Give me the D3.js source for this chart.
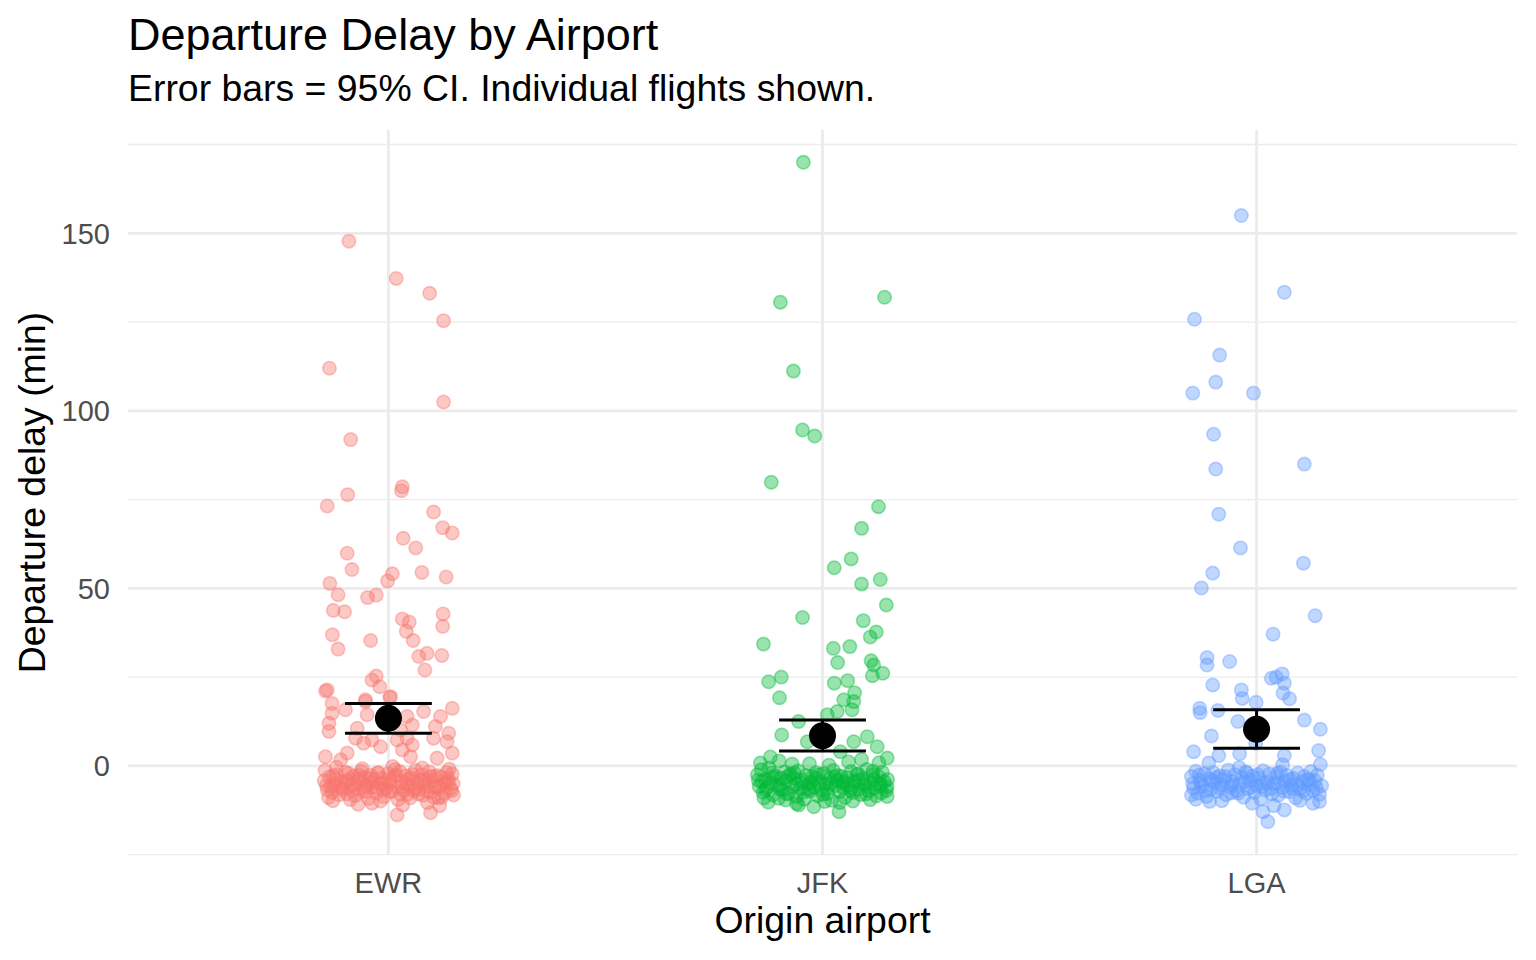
<!DOCTYPE html>
<html>
<head>
<meta charset="utf-8">
<script src="https://cdn.jsdelivr.net/npm/d3@7"></script>
<style>
body { margin: 0; background: #ffffff; }
text { font-family: "Liberation Sans", Arial, sans-serif; }
</style>
</head>
<body>
<script>
// categories and summary stats
var airports = ["EWR", "JFK", "LGA"]
var airportColors = ["#F8766D", "#00BA38", "#619CFF"]
var meanDelay = [13.4, 8.5, 10.3]
var ciLow = [9.2, 4.2, 5.0]
var ciHigh = [17.6, 12.9, 15.8]
var yTicks = [0, 50, 100, 150]
var yMinorTicks = [-25, 25, 75, 125, 175]

// individual flights: [jitter offset (category units), delay in minutes]
var ewrFlights = [
[-0.091,147.8],[0.018,137.3],[0.095,133.1],[0.127,125.4],[-0.136,112.0],[0.127,102.5],[-0.087,91.9],
[0.032,78.6],[0.030,77.5],[-0.094,76.4],[-0.141,73.2],[0.104,71.5],[0.125,67.1],[0.147,65.6],
[0.034,64.1],[0.063,61.4],[-0.095,59.9],[-0.084,55.3],[0.009,54.1],[-0.002,52.1],[0.077,54.5],
[0.133,53.2],[-0.135,51.4],[-0.116,48.2],[-0.028,48.1],[-0.048,47.4],[-0.127,43.8],[-0.101,43.4],
[0.126,42.8],[0.032,41.4],[0.048,40.5],[0.125,39.3],[0.041,37.9],[-0.129,36.9],[-0.041,35.3],
[0.057,35.3],[-0.116,32.9],[0.089,31.7],[0.070,30.8],[0.123,31.1],[0.084,27.0],[-0.028,25.3],
[-0.038,24.2],[-0.020,22.3],[-0.141,21.4],[-0.145,21.1],[-0.053,18.6],[0.003,19.3],[-0.130,17.6],
[-0.130,14.8],[-0.137,12.0],[-0.137,9.7],[-0.099,15.8],[-0.053,18.1],[-0.049,14.4],[-0.072,10.6],
[-0.076,7.8],[-0.057,6.4],[-0.038,7.3],[-0.018,5.4],[0.005,19.5],[0.043,13.9],[0.055,11.5],
[0.028,10.1],[0.020,7.3],[0.043,7.8],[0.055,5.9],[0.032,4.5],[0.081,15.3],[0.108,11.1],[0.120,13.9],
[0.147,16.2],[0.139,9.2],[0.135,6.8],[0.104,7.8],[0.147,3.6],[-0.145,2.6],[-0.095,3.6],[-0.110,1.7],
[0.112,2.2],[0.051,2.6],[0.020,-13.8],[0.097,-13.2],[-0.038,-10.5],
[-0.148,-4.2],[-0.141,-6.8],[-0.136,-3.1],[-0.130,-7.5],[-0.125,-5.0],[-0.119,-2.4],[-0.114,-8.1],
[-0.110,-4.6],[-0.104,-6.2],[-0.099,-1.8],[-0.095,-7.9],[-0.090,-3.7],[-0.086,-5.6],[-0.081,-2.9],
[-0.077,-8.4],[-0.072,-4.4],[-0.068,-6.5],[-0.063,-1.5],[-0.059,-7.1],[-0.054,-3.3],[-0.050,-5.3],
[-0.046,-9.2],[-0.041,-2.6],[-0.037,-6.0],[-0.032,-4.0],[-0.028,-7.6],[-0.023,-1.9],[-0.019,-5.1],
[-0.014,-3.5],[-0.010,-8.7],[-0.005,-6.3],[-0.001,-2.2],[0.004,-4.8],[0.008,-7.3],[0.013,-3.0],
[0.017,-5.8],[0.022,-9.5],[0.026,-1.6],[0.031,-4.3],[0.035,-6.9],[0.040,-2.8],[0.044,-8.0],
[0.049,-5.5],[0.053,-3.4],[0.058,-7.0],[0.062,-1.2],[0.067,-4.9],[0.071,-6.6],[0.076,-2.5],
[0.080,-8.3],[0.085,-3.8],[0.089,-5.7],[0.094,-1.7],[0.098,-7.4],[0.103,-4.1],[0.107,-6.1],
[0.112,-2.7],[0.116,-9.0],[0.121,-3.2],[0.125,-5.4],[0.130,-7.7],[0.134,-1.9],[0.139,-4.5],
[0.143,-6.4],[0.147,-2.3],[0.150,-8.2],
[-0.146,-1.3],[-0.133,-5.9],[-0.121,-3.9],[-0.107,-6.7],[-0.092,-2.1],[-0.079,-5.2],[-0.066,-3.6],
[-0.052,-7.3],[-0.039,-4.7],[-0.025,-2.0],[-0.012,-6.8],[0.002,-3.9],[0.015,-1.0],[0.028,-8.0],
[0.042,-5.0],[0.055,-2.4],[0.069,-7.9],[0.082,-4.6],[0.096,-3.1],[0.110,-5.9],[0.123,-8.8],
[0.137,-3.6],[0.149,-5.0],[-0.128,-9.8],[-0.070,-10.8],[0.033,-11.0],[0.090,-10.4],[0.118,-11.2],
[-0.143,-5.5],[-0.127,-2.8],[-0.112,-6.0],[-0.097,-4.3],[-0.083,-7.0],[-0.068,-2.6],[-0.054,-5.8],
[-0.040,-3.5],[-0.026,-6.2],[-0.011,-4.9],[0.003,-7.1],[0.018,-2.5],[0.032,-5.9],[0.046,-3.8],
[0.061,-6.4],[0.075,-4.0],[0.089,-7.2],[0.104,-2.9],[0.118,-6.0],[0.132,-4.8],[0.146,-7.0],
[-0.120,-0.4],[-0.060,-0.8],[0.010,-0.2],[0.078,-0.6],[0.140,-0.9],[-0.138,-8.9],[-0.088,-9.5],
[-0.018,-9.9],[0.050,-9.0],[0.105,-8.9]
]

var jfkFlights = [
[-0.044,170.0],[-0.097,130.6],[0.143,132.0],[-0.067,111.2],[-0.046,94.6],[-0.018,92.9],[-0.118,79.9],
[0.129,73.0],[0.090,66.9],[0.066,58.3],[0.027,55.8],[0.133,52.5],[0.090,51.2],[0.147,45.3],
[-0.046,41.8],[0.094,40.9],[0.124,37.7],[0.110,36.3],[-0.136,34.3],[0.025,33.1],[0.063,33.6],
[0.035,29.1],[0.112,29.6],[0.118,28.4],[0.115,25.4],[0.139,26.1],[-0.124,23.7],[-0.095,25.0],
[0.027,23.3],[0.058,24.0],[-0.099,19.2],[0.074,20.6],[0.049,18.6],[0.072,18.1],[0.034,15.3],
[0.068,15.8],[0.011,14.4],[-0.055,12.5],[-0.094,8.7],[-0.035,6.8],[0.072,6.8],[0.103,8.2],
[0.126,5.4],[0.041,4.0],[0.149,2.2],[-0.143,0.8],[0.038,-12.9],[-0.055,-11.0],[0.149,-8.6],
[-0.150,-2.5],[-0.146,-5.8],[-0.141,-1.1],[-0.137,-7.4],[-0.132,-3.9],[-0.128,-6.1],[-0.123,-0.6],
[-0.119,-4.7],[-0.114,-8.2],[-0.110,-2.8],[-0.105,-5.5],[-0.101,-9.1],[-0.096,-3.4],[-0.092,-6.8],
[-0.087,-1.7],[-0.083,-4.2],[-0.078,-7.7],[-0.074,-2.3],[-0.069,-5.9],[-0.065,-3.5],[-0.060,-8.6],
[-0.056,-1.4],[-0.051,-6.4],[-0.047,-4.0],[-0.042,-9.4],[-0.038,-2.7],[-0.033,-5.2],[-0.029,-7.1],
[-0.024,-3.1],[-0.020,-6.0],[-0.015,-1.9],[-0.011,-8.4],[-0.006,-4.5],[-0.002,-6.7],[0.003,-2.1],
[0.007,-5.0],[0.012,-7.8],[0.016,-3.7],[0.021,-9.7],[0.025,-1.3],[0.030,-5.6],[0.034,-4.1],
[0.039,-7.2],[0.043,-2.9],[0.048,-6.2],[0.052,-8.9],[0.057,-3.3],[0.061,-5.4],[0.066,-1.6],
[0.070,-7.5],[0.075,-4.3],[0.079,-2.4],[0.084,-6.6],[0.088,-8.1],[0.093,-3.6],[0.097,-5.1],
[0.102,-1.0],[0.106,-7.0],[0.111,-4.8],[0.115,-2.6],[0.120,-6.3],[0.124,-8.5],[0.129,-3.0],
[0.133,-5.7],[0.138,-1.8],[0.142,-4.4],[0.147,-6.9],[0.150,-3.8],
[-0.140,-4.4],[-0.117,-2.0],[-0.099,-6.5],[-0.080,-3.0],[-0.062,-5.1],[-0.044,-7.4],[-0.026,-4.6],
[-0.008,-2.5],[0.010,-6.1],[0.028,-3.2],[0.046,-4.9],[0.064,-7.0],[0.082,-2.2],[0.100,-5.6],
[0.118,-3.9],[0.136,-7.6],[-0.125,-10.2],[-0.060,-10.6],[0.005,-10.0],[0.070,-9.9],
[-0.120,2.5],[-0.100,1.4],[0.090,1.8],[0.130,0.9],[-0.030,0.6],
[-0.148,-4.0],[-0.131,-6.8],[-0.115,-3.2],[-0.098,-5.4],[-0.082,-7.9],[-0.065,-2.0],[-0.049,-4.8],
[-0.032,-6.6],[-0.016,-3.4],[0.001,-8.0],[0.017,-5.2],[0.034,-2.7],[0.050,-4.5],[0.067,-6.0],
[0.083,-4.1],[0.100,-7.9],[0.116,-1.5],[0.133,-4.9],[0.149,-5.9],[-0.135,-9.0],[-0.085,-9.6],
[-0.020,-11.5],[0.040,-10.3],[0.110,-9.5],[-0.070,0.5],[0.015,0.2],[0.060,1.1]
]

var lgaFlights = [
[-0.035,155.0],[0.064,133.4],[-0.143,125.8],[-0.085,115.7],[-0.094,108.1],[-0.147,105.0],[-0.007,105.0],
[-0.099,93.4],[-0.094,83.6],[0.110,85.0],[-0.087,70.9],[-0.037,61.4],[-0.101,54.3],[0.108,57.1],
[-0.127,50.1],[0.135,42.3],[0.038,37.1],[-0.114,30.5],[-0.114,28.4],[-0.062,29.4],[-0.101,22.8],
[-0.035,21.4],[-0.033,19.0],[0.034,24.7],[0.045,25.0],[0.059,25.9],[0.064,23.3],[0.061,20.5],
[0.076,18.9],[-0.001,17.9],[-0.131,16.2],[-0.130,15.0],[-0.089,15.6],[-0.043,12.5],[0.110,12.9],
[0.147,10.3],[-0.104,8.4],[-0.002,6.4],[-0.145,4.0],[-0.087,2.9],[-0.039,3.4],[0.064,2.9],
[0.143,4.3],[0.147,0.4],[0.015,-12.9],[0.026,-15.7],[0.064,-12.4],[0.145,-10.0],[-0.150,-8.2],
[-0.108,-10.0],
[-0.150,-3.0],[-0.145,-6.2],[-0.140,-1.5],[-0.135,-7.7],[-0.130,-4.1],[-0.125,-5.8],[-0.120,-2.2],
[-0.115,-8.6],[-0.110,-3.6],[-0.105,-6.6],[-0.100,-1.9],[-0.095,-4.9],[-0.090,-7.2],[-0.085,-2.8],
[-0.080,-5.4],[-0.075,-3.9],[-0.070,-8.1],[-0.065,-1.2],[-0.060,-6.0],[-0.055,-4.4],[-0.050,-2.5],
[-0.045,-7.0],[-0.040,-5.1],[-0.035,-3.2],[-0.030,-8.8],[-0.025,-1.7],[-0.020,-6.4],[-0.015,-4.0],
[-0.010,-2.9],[-0.005,-7.5],[0.000,-5.5],[0.005,-3.4],[0.010,-9.3],[0.015,-1.4],[0.020,-6.8],
[0.025,-4.6],[0.030,-2.3],[0.035,-7.9],[0.040,-5.0],[0.045,-3.1],[0.050,-8.3],[0.055,-1.8],
[0.060,-6.1],[0.065,-4.3],[0.070,-2.7],[0.075,-7.3],[0.080,-5.3],[0.085,-3.5],[0.090,-9.0],
[0.095,-2.0],[0.100,-6.5],[0.105,-4.5],[0.110,-3.0],[0.115,-7.8],[0.120,-5.2],[0.125,-1.6],
[0.130,-6.9],[0.135,-4.2],[0.140,-2.6],[0.145,-8.0],[0.150,-5.6],
[-0.128,-5.0],[-0.092,-3.3],[-0.058,-7.6],[-0.022,-2.0],[0.012,-5.7],[0.048,-4.8],[0.082,-6.3],
[0.118,-3.8],[-0.040,-0.5],[0.060,0.3],[-0.110,0.8],
[-0.147,-5.0],[-0.132,-2.6],[-0.117,-6.9],[-0.102,-4.1],[-0.087,-6.1],[-0.072,-3.0],[-0.057,-5.3],
[-0.042,-7.7],[-0.027,-4.4],[-0.012,-6.0],[0.003,-2.4],[0.018,-4.9],[0.033,-6.4],[0.048,-2.1],
[0.063,-7.1],[0.078,-3.9],[0.093,-5.5],[0.108,-7.1],[0.123,-4.0],[0.138,-6.3],[-0.140,-9.4],
[-0.080,-9.8],[-0.010,-10.5],[0.040,-11.2],[0.100,-9.7],[0.130,-10.5]
]

var allFlights = [ewrFlights, jfkFlights, lgaFlights]

var screen = {width: 1536, height: 960}
var panel = {left: 128, right: 1517, top: 130, bottom: 855}

var svg = d3.select("body")
            .append("svg")
            .attr("width", screen.width)
            .attr("height", screen.height)

// discrete axis: category i sits at i+1, with 0.6 expansion each side
var x = d3.scaleLinear()
          .domain([0.4, airports.length + 0.6])
          .range([panel.left, panel.right])

var y = d3.scaleLinear()
          .domain([-25.1, 179.1])
          .range([panel.bottom, panel.top])

// grid
var grid = svg.append("g").attr("class", "grid")

grid.selectAll(".minor")
    .data(yMinorTicks.filter(function(d) {return y(d) >= panel.top && y(d) <= panel.bottom}))
    .enter()
    .append("line")
    .attr("x1", panel.left)
    .attr("x2", panel.right)
    .attr("y1", function(d) {return y(d)})
    .attr("y2", function(d) {return y(d)})
    .attr("stroke", "#ebebeb")
    .attr("stroke-width", 1.4)

grid.selectAll(".major")
    .data(yTicks)
    .enter()
    .append("line")
    .attr("x1", panel.left)
    .attr("x2", panel.right)
    .attr("y1", function(d) {return y(d)})
    .attr("y2", function(d) {return y(d)})
    .attr("stroke", "#ebebeb")
    .attr("stroke-width", 2.8)

grid.selectAll(".vmajor")
    .data(airports)
    .enter()
    .append("line")
    .attr("x1", function(d, i) {return x(i + 1)})
    .attr("x2", function(d, i) {return x(i + 1)})
    .attr("y1", panel.top)
    .attr("y2", panel.bottom)
    .attr("stroke", "#ebebeb")
    .attr("stroke-width", 2.8)

// jittered flights
allFlights.forEach(function(flights, i)
{
  svg.append("g")
     .selectAll("circle")
     .data(flights)
     .enter()
     .append("circle")
     .attr("cx", function(d) {return x(i + 1 + d[0])})
     .attr("cy", function(d) {return y(d[1])})
     .attr("r", 6.7)
     .attr("fill", airportColors[i])
     .attr("fill-opacity", 0.4)
     .attr("stroke", airportColors[i])
     .attr("stroke-opacity", 0.4)
     .attr("stroke-width", 1.6)
})

// error bars + means
var summary = svg.append("g").attr("class", "summary")
var capHalf = 0.1

airports.forEach(function(a, i)
{
  var cx = i + 1
  summary.append("line")
         .attr("x1", x(cx)).attr("x2", x(cx))
         .attr("y1", y(ciLow[i])).attr("y2", y(ciHigh[i]))
         .attr("stroke", "#000").attr("stroke-width", 3)
  ;[ciLow[i], ciHigh[i]].forEach(function(v)
  {
    summary.append("line")
           .attr("x1", x(cx - capHalf)).attr("x2", x(cx + capHalf))
           .attr("y1", y(v)).attr("y2", y(v))
           .attr("stroke", "#000").attr("stroke-width", 3)
  })
  summary.append("circle")
         .attr("cx", x(cx))
         .attr("cy", y(meanDelay[i]))
         .attr("r", 13.5)
         .attr("fill", "#000")
})

// axes text
svg.append("g")
   .selectAll("text")
   .data(yTicks)
   .enter()
   .append("text")
   .attr("x", 110)
   .attr("y", function(d) {return y(d)})
   .attr("dy", "0.36em")
   .attr("text-anchor", "end")
   .attr("font-size", 29)
   .attr("fill", "#4d4d4d")
   .text(function(d) {return d})

svg.append("g")
   .selectAll("text")
   .data(airports)
   .enter()
   .append("text")
   .attr("x", function(d, i) {return x(i + 1)})
   .attr("y", 893)
   .attr("text-anchor", "middle")
   .attr("font-size", 29)
   .attr("fill", "#4d4d4d")
   .text(function(d) {return d})

svg.append("text")
   .attr("x", (panel.left + panel.right) / 2)
   .attr("y", 933)
   .attr("text-anchor", "middle")
   .attr("font-size", 37.4)
   .attr("fill", "#000")
   .text("Origin airport")

svg.append("text")
   .attr("transform", "translate(45," + ((panel.top + panel.bottom) / 2) + ") rotate(-90)")
   .attr("text-anchor", "middle")
   .attr("font-size", 37.4)
   .attr("fill", "#000")
   .text("Departure delay (min)")

// titles
svg.append("text")
   .attr("x", 128)
   .attr("y", 50)
   .attr("font-size", 45)
   .attr("fill", "#000")
   .text("Departure Delay by Airport")

svg.append("text")
   .attr("x", 128)
   .attr("y", 101)
   .attr("font-size", 37.4)
   .attr("fill", "#000")
   .text("Error bars = 95% CI. Individual flights shown.")
</script>
</body>
</html>
